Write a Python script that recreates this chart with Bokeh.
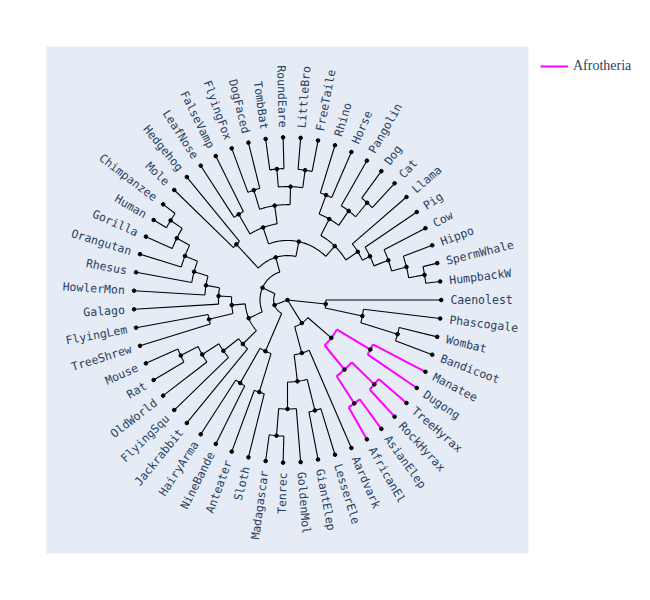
import math
from bokeh.plotting import figure
from bokeh.models import Legend, LegendItem, ColumnDataSource
from bokeh.embed import file_html
from bokeh.resources import INLINE
from bokeh.core.properties import value

# ---------------- data ----------------
LEAVES = ["Caenolest", "Phascogale", "Wombat", "Bandicoot", "Manatee", "Dugong",
          "TreeHyrax", "RockHyrax", "AsianElep", "AfricanEl", "Aardvark", "LesserEle",
          "GiantElep", "GoldenMol", "Tenrec", "Madagascar", "Sloth", "Anteater",
          "NineBande", "HairyArma", "Jackrabbit", "FlyingSqu", "OldWorld", "Rat",
          "Mouse", "TreeShrew", "FlyingLem", "Galago", "HowlerMon", "Rhesus",
          "Orangutan", "Gorilla", "Human", "Chimpanzee", "Mole", "Hedgehog",
          "LeafNose", "FalseVamp", "FlyingFox", "DogFaced", "TombBat", "RoundEare",
          "LittleBro", "FreeTaile", "Rhino", "Horse", "Pangolin", "Dog", "Cat",
          "Llama", "Pig", "Cow", "Hippo", "SpermWhale", "HumpbackW"]
LEAF_DEPTH = 1.0

NODE_NAMES = ["root", "Marsupialia", "Dasyuromorphia", "Diprotodontia",
              "Afrotheria", "Paenungulata", "Sirenia", "HyraxElephant", "Hyracoidea",
              "Proboscidea", "Afroinsectiphilia", "Afroinsectivora", "Macroscelidea",
              "Afrosoricida", "Tenrecidae", "Exafroplacentalia", "Xenarthra", "Pilosa",
              "Cingulata", "Boreoeutheria", "Euarchontoglires", "Glires", "Rodentia",
              "Rodentia2", "Muridae", "Euarchonta", "Sundatheria", "Primates",
              "Anthropoidea", "Catarrhini", "Hominoidea", "Homininae", "Hominini",
              "Laurasiatheria", "Eulipotyphla", "Scrotifera", "Chiroptera",
              "Rhinolophoidea", "Bats2", "Pteropodidae", "Bats3", "BatsA", "BatsB",
              "Fereuungulata", "Zooamata", "Perissodactyla", "Ferae", "Carnivora",
              "Cetartiodactyla", "Artiofabula", "Cetruminantia", "Whippomorpha", "Cetacea"]
NODE_DEPTH = [0.0, 0.250, 0.497, 0.746,
              0.170, 0.368, 0.619, 0.566, 0.767,
              0.770, 0.339, 0.504, 0.702,
              0.670, 0.837, 0.090, 0.346, 0.595,
              0.596, 0.179, 0.276, 0.397, 0.521,
              0.648, 0.774, 0.364, 0.524, 0.449,
              0.538, 0.632, 0.720, 0.814, 0.904,
              0.273, 0.477, 0.366, 0.473,
              0.615, 0.586, 0.710, 0.697, 0.808, 0.806,
              0.452, 0.567, 0.692, 0.677, 0.791,
              0.545, 0.600, 0.700, 0.800, 0.905]
NODE_CHILDREN = [["Marsupialia", "Afrotheria", "Exafroplacentalia"],
                 ["Caenolest", "Dasyuromorphia"], ["Phascogale", "Diprotodontia"],
                 ["Wombat", "Bandicoot"],
                 ["Paenungulata", "Afroinsectiphilia"], ["Sirenia", "HyraxElephant"],
                 ["Manatee", "Dugong"], ["Hyracoidea", "Proboscidea"],
                 ["TreeHyrax", "RockHyrax"], ["AsianElep", "AfricanEl"],
                 ["Aardvark", "Afroinsectivora"], ["Macroscelidea", "Afrosoricida"],
                 ["LesserEle", "GiantElep"], ["GoldenMol", "Tenrecidae"],
                 ["Tenrec", "Madagascar"], ["Boreoeutheria", "Xenarthra"],
                 ["Pilosa", "Cingulata"], ["Sloth", "Anteater"], ["NineBande", "HairyArma"],
                 ["Laurasiatheria", "Euarchontoglires"], ["Glires", "Euarchonta"],
                 ["Jackrabbit", "Rodentia"], ["FlyingSqu", "Rodentia2"],
                 ["OldWorld", "Muridae"], ["Rat", "Mouse"],
                 ["Sundatheria", "Primates"], ["TreeShrew", "FlyingLem"],
                 ["Galago", "Anthropoidea"], ["HowlerMon", "Catarrhini"],
                 ["Rhesus", "Hominoidea"], ["Orangutan", "Homininae"],
                 ["Gorilla", "Hominini"], ["Human", "Chimpanzee"],
                 ["Eulipotyphla", "Scrotifera"], ["Mole", "Hedgehog"],
                 ["Chiroptera", "Fereuungulata"], ["Rhinolophoidea", "Bats2"],
                 ["LeafNose", "FalseVamp"], ["Pteropodidae", "Bats3"],
                 ["FlyingFox", "DogFaced"], ["BatsA", "BatsB"],
                 ["TombBat", "RoundEare"], ["LittleBro", "FreeTaile"],
                 ["Zooamata", "Cetartiodactyla"], ["Perissodactyla", "Ferae"],
                 ["Rhino", "Horse"], ["Pangolin", "Carnivora"], ["Dog", "Cat"],
                 ["Llama", "Artiofabula"], ["Pig", "Cetruminantia"],
                 ["Cow", "Whippomorpha"], ["Hippo", "Cetacea"],
                 ["SpermWhale", "HumpbackW"]]
HIGHLIGHT_CLADE = "Paenungulata"
HIGHLIGHT_LABEL = "Afrotheria"

# ---------------- layout computation ----------------
n = len(LEAVES)
ang = {nm: -360.0 * i / n for i, nm in enumerate(LEAVES)}
depth = {nm: LEAF_DEPTH for nm in LEAVES}
depth.update(zip(NODE_NAMES, NODE_DEPTH))
children = dict(zip(NODE_NAMES, NODE_CHILDREN))


def node_angle(nm):
    if nm not in ang:
        ch = children[nm]
        ang[nm] = sum(node_angle(c) for c in ch) / len(ch)
    return ang[nm]


for nm in NODE_NAMES:
    node_angle(nm)


def subtree(nm):
    out = {nm}
    for c in children.get(nm, []):
        out |= subtree(c)
    return out


hl = subtree(HIGHLIGHT_CLADE)


def pol(d, a):
    r = math.radians(a)
    return d * math.cos(r), d * math.sin(r)


bx, by, mx, my = [], [], [], []
for nm in NODE_NAMES:
    d = depth[nm]
    ch = children[nm]
    cang = [ang[c] for c in ch]
    magenta = nm in hl
    if d > 0:
        a0, a1 = min(cang), max(cang)
        steps = max(2, int(abs(a1 - a0) / 0.75) + 1)
        pts = [pol(d, a0 + (a1 - a0) * k / (steps - 1)) for k in range(steps)]
        (mx if magenta else bx).append([q[0] for q in pts])
        (my if magenta else by).append([q[1] for q in pts])
    for c in ch:
        p0 = pol(d, ang[c])
        p1 = pol(depth[c], ang[c])
        (mx if magenta else bx).append([p0[0], p1[0]])
        (my if magenta else by).append([p0[1], p1[1]])

dot_x, dot_y = [], []
for nm in list(LEAVES) + NODE_NAMES:
    q = pol(depth[nm], ang[nm])
    dot_x.append(q[0])
    dot_y.append(q[1])

# ---------------- figure ----------------
FW, FH = 482, 507
XR, YR = 1.568, 1.558
SX, SY = FW / (2 * XR), FH / (2 * YR)

p = figure(frame_width=FW, frame_height=FH, x_range=(-XR, XR), y_range=(-YR, YR),
           x_axis_location=None, y_axis_location=None, toolbar_location=None,
           output_backend="svg", min_border_left=46, min_border_top=46,
           min_border_bottom=30, min_border_right=0,
           background_fill_color="#E5ECF6", border_fill_color="white",
           outline_line_color=None)
p.grid.visible = False

p.multi_line(bx, by, line_color="black", line_width=1.1)
r_mag = p.multi_line(mx, my, line_color="#FF00FF", line_width=2)
p.scatter(dot_x, dot_y, size=3.6, color="black")

LABEL_D = 1.06
R = dict(x=[], y=[], text=[], angle=[])
L = dict(x=[], y=[], text=[], angle=[])
for nm in LEAVES:
    a = ang[nm]
    q = pol(LABEL_D, a)
    rad = math.radians(a)
    phi = math.atan2(SY * math.sin(rad), SX * math.cos(rad))
    if math.cos(rad) > 0:
        tgt, rot = R, phi
    else:
        tgt, rot = L, phi + math.pi
    tgt["x"].append(q[0]); tgt["y"].append(q[1])
    tgt["text"].append(nm); tgt["angle"].append(rot)

for src, align in ((R, "left"), (L, "right")):
    p.text(x="x", y="y", text="text", angle="angle", source=ColumnDataSource(src),
           text_align=align, text_baseline="middle",
           text_font=value("DejaVu Sans Mono"), text_font_size="11.5px",
           text_color="#2a3f5f")

leg = Legend(items=[LegendItem(label=HIGHLIGHT_LABEL, renderers=[r_mag])],
             location="top_left", margin=12, padding=0, spacing=0,
             glyph_width=28, glyph_height=16, label_height=16, label_standoff=5,
             border_line_color=None, background_fill_alpha=0,
             label_text_font="Liberation Serif", label_text_font_size="14px",
             label_text_color="#2a3f5f")
p.add_layout(leg, "right")

open("out.html", "w").write(file_html(p, INLINE))
